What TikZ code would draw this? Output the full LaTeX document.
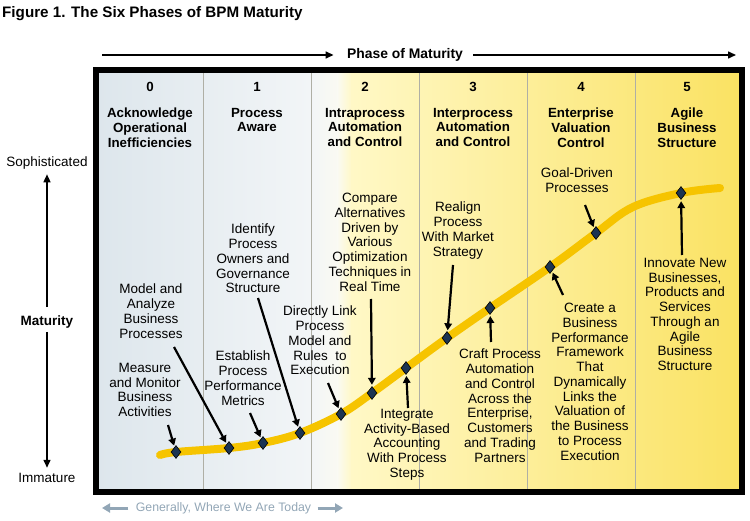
\documentclass[tikz,border=0pt]{standalone}
\usepackage{fontspec}
\setmainfont{Liberation Sans}
\usetikzlibrary{arrows.meta,shapes.geometric}
\definecolor{curvey}{RGB}{246,196,0}
\definecolor{dia}{RGB}{28,52,82}
\definecolor{gw}{RGB}{146,166,182}
\definecolor{divc}{RGB}{175,175,165}
\begin{document}
\begin{tikzpicture}[x=1pt,y=-1pt,
  lbl/.style={align=center, font=\fontsize{13.5}{14.75}\selectfont, inner sep=0pt, anchor=north},
  hdr/.style={align=center, font=\bfseries\fontsize{13.3}{14.6}\selectfont, inner sep=0pt, anchor=north},
  num/.style={font=\bfseries\fontsize{13.3}{15}\selectfont, inner sep=0pt},
  dmd/.style={diamond, draw=black, line width=0.6pt, fill=dia, minimum width=10pt, minimum height=13pt, inner sep=0pt},
  pt/.style={-{Triangle[length=7pt,width=7.5pt]}, line width=2.2pt, shorten >=1.5pt},
  ax/.style={-{Triangle[length=8pt,width=7pt]}, line width=1.5pt},
  gax/.style={-{Triangle[length=8pt,width=9pt]}, line width=3pt, draw=gw},
]
\useasboundingbox (0,0) rectangle (750,521);
% background shading
\shade[left color={rgb,255:red,221;green,230;blue,236}, right color={rgb,255:red,242;green,245;blue,247}] (96,70) rectangle (311,492);
\shade[left color={rgb,255:red,242;green,245;blue,247}, right color={rgb,255:red,250;green,250;blue,242}] (310.5,70) rectangle (338,492);
\shade[left color={rgb,255:red,250;green,250;blue,242}, right color={rgb,255:red,255;green,248;blue,198}] (337.5,70) rectangle (352,492);
\shade[left color={rgb,255:red,255;green,248;blue,198}, right color={rgb,255:red,250;green,226;blue,98}] (351.5,70) rectangle (742,492);
% dividers
\foreach \x in {203,311,419,527,635} \draw[divc, line width=0.6pt] (\x,73) -- (\x,489);
% frame
\draw[black, line width=6pt] (96,70) rectangle (742,492);
% title
\node[anchor=west, inner sep=0pt, font=\bfseries\fontsize{15.2}{18}\selectfont] (title) at (2,14) {Figure 1. The Six Phases of BPM Maturity};
% phase of maturity
\node[font=\bfseries\fontsize{13.9}{16}\selectfont] (pm) at (405,55) {Phase of Maturity};
\coordinate (tl) at (102,55);
\coordinate (tr) at (736,55);
\draw[ax, shorten >=10pt] (tl) -- (pm.west);
\draw[ax, shorten <=7pt] (pm.east) -- (tr);
% headers
\node[num] (n0) at (150,87) {0};
\node[num] (n1) at (257,87) {1};
\node[num] (n2) at (365,87) {2};
\node[num] (n3) at (473,87) {3};
\node[num] (n4) at (581,87) {4};
\node[num] (n5) at (687,87) {5};
\node[hdr] (h0) at (150,108) {Acknowledge\\Operational\\Inefficiencies};
\node[hdr] (h1) at (257,108) {Process\\Aware};
\node[hdr] (h2) at (365,108) {Intraprocess\\Automation\\and Control};
\node[hdr] (h3) at (473,108) {Interprocess\\Automation\\and Control};
\node[hdr] (h4) at (581,108) {Enterprise\\Valuation\\Control};
\node[hdr] (h5) at (687,108) {Agile\\Business\\Structure};
% left axis
\node[font=\fontsize{13.5}{15}\selectfont] (soph) at (47,163) {Sophisticated};
\node[font=\bfseries\fontsize{13.5}{15}\selectfont] (mat) at (47,322) {Maturity};
\node[font=\fontsize{13.5}{15}\selectfont] (imm) at (47,478) {Immature};
\draw[ax, shorten <=5pt, shorten >=1.5pt] (mat) -- (soph);
\draw[ax, shorten <=0pt, shorten >=2pt] (mat) -- (imm);
% bottom note
\node[text=gw, font=\fontsize{12.3}{14}\selectfont] (today) at (223.5,508) {Generally, Where We Are Today};
\coordinate (gl) at (102,508);
\coordinate (gr) at (343,508);
\draw[gax, shorten <=4pt] (today.west) -- (gl);
\draw[gax, shorten <=3pt] (today.east) -- (gr);
% curve
\draw[curvey, line width=8pt, line cap=round] plot[smooth, tension=0.6] coordinates {(160,455) (176,452) (229,448) (263,443) (300,433) (341,414) (372,393) (406,368) (447,338) (490,308) (550,267) (596,233) (633,207) (681,193) (720,188)};
% diamonds
\node[dmd] (d1) at (176,452) {};
\node[dmd] (d2) at (229,448) {};
\node[dmd] (d3) at (263,443) {};
\node[dmd] (d4) at (300,433) {};
\node[dmd] (d5) at (341,414) {};
\node[dmd] (d6) at (372,393) {};
\node[dmd] (d7) at (406,368) {};
\node[dmd] (d8) at (447,338) {};
\node[dmd] (d9) at (490,308) {};
\node[dmd] (d10) at (550,267) {};
\node[dmd] (d11) at (596,233) {};
\node[dmd] (d12) at (681,193) {};
% labels
\node[lbl] (l1) at (145,363) {Measure\\and Monitor\\Business\\Activities};
\node[lbl] (l2) at (151,284) {Model and\\Analyze\\Business\\Processes};
\node[lbl] (l3) at (243,351) {Establish\\Process\\Performance\\Metrics};
\node[lbl] (l4) at (253,224) {Identify\\Process\\Owners and\\Governance\\Structure};
\node[lbl] (l5) at (320,306) {Directly Link\\Process\\Model and\\Rules~~to\\Execution};
\node[lbl] (l6) at (370,193) {Compare\\Alternatives\\Driven by\\Various\\Optimization\\Techniques in\\Real Time};
\node[lbl] (l7) at (407,409) {Integrate\\Activity-Based\\Accounting\\With Process\\Steps};
\node[lbl] (l8) at (458,202) {Realign\\Process\\With Market\\Strategy};
\node[lbl] (l9) at (500,349) {Craft Process\\Automation\\and Control\\Across the\\Enterprise,\\Customers\\and Trading\\Partners};
\node[lbl] (l10) at (590,303) {Create a\\Business\\Performance\\Framework\\That\\Dynamically\\Links the\\Valuation of\\the Business\\to Process\\Execution};
\node[lbl] (l11) at (577,168) {Goal-Driven\\Processes};
\node[lbl] (l12) at (685,258) {Innovate New\\Businesses,\\Products and\\Services\\Through an\\Agile\\Business\\Structure};
% arrow tails
\coordinate (t1) at (168,425);
\coordinate (t2) at (174,347);
\coordinate (t3) at (250,413);
\coordinate (t4) at (258,298);
\coordinate (t5) at (328,383);
\coordinate (t6) at (371,299);
\coordinate (t7) at (408,408);
\coordinate (t8) at (453,265);
\coordinate (t9) at (491,342);
\coordinate (t10) at (563,295);
\coordinate (t11) at (585,205);
\coordinate (t12) at (682,255);
\draw[pt] (t1) -- (d1);
\draw[pt] (t2) -- (d2);
\draw[pt] (t3) -- (d3);
\draw[pt] (t4) -- (d4);
\draw[pt] (t5) -- (d5);
\draw[pt] (t6) -- (d6);
\draw[pt] (t7) -- (d7);
\draw[pt] (t8) -- (d8);
\draw[pt] (t9) -- (d9);
\draw[pt] (t10) -- (d10);
\draw[pt] (t11) -- (d11);
\draw[pt] (t12) -- (d12);
\end{tikzpicture}
\end{document}
